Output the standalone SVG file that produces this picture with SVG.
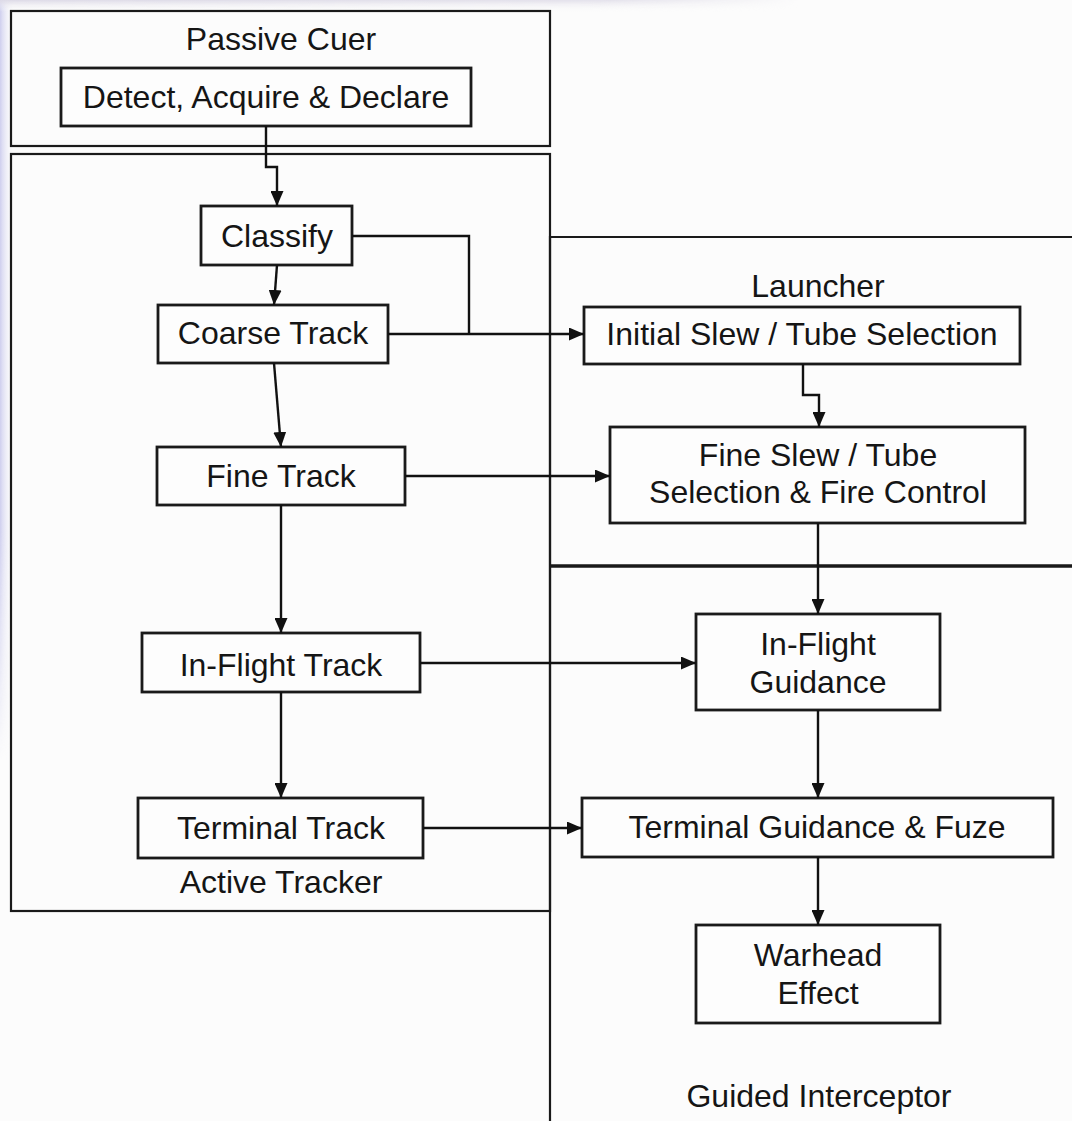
<svg xmlns="http://www.w3.org/2000/svg" width="1072" height="1121" viewBox="0 0 1072 1121">
<defs>
<style>
.bg{fill:#fcfcfc}
.frame{fill:none;stroke:#1a1a1a;stroke-width:2.2}
.box{fill:#fdfdfd;stroke:#1a1a1a;stroke-width:2.8}
.lbl{font-family:"Liberation Sans",Arial,sans-serif;font-size:32px;fill:#151515;text-anchor:middle}
.conn{fill:none;stroke:#111;stroke-width:2.4}
</style>
<linearGradient id="leftfade" x1="0" y1="0" x2="1" y2="0">
<stop offset="0" stop-color="#cfcfee"/>
<stop offset="1" stop-color="#fcfcfc" stop-opacity="0"/>
</linearGradient>
<linearGradient id="leftfadeV" x1="0" y1="0" x2="0" y2="1">
<stop offset="0" stop-color="#fff" stop-opacity="1"/>
<stop offset="0.7" stop-color="#fff" stop-opacity="1"/>
<stop offset="1" stop-color="#fff" stop-opacity="0"/>
</linearGradient>
<mask id="lm"><rect x="0" y="0" width="20" height="760" fill="url(#leftfadeV)"/></mask>
<linearGradient id="topfade" x1="0" y1="0" x2="0" y2="1">
<stop offset="0" stop-color="#dcd9e6"/>
<stop offset="1" stop-color="#fcfcfc" stop-opacity="0"/>
</linearGradient>
<linearGradient id="topfadeH" x1="0" y1="0" x2="1" y2="0">
<stop offset="0" stop-color="#fff" stop-opacity="1"/>
<stop offset="0.75" stop-color="#fff" stop-opacity="0.8"/>
<stop offset="1" stop-color="#fff" stop-opacity="0"/>
</linearGradient>
<mask id="tm"><rect x="0" y="0" width="800" height="14" fill="url(#topfadeH)"/></mask>
<marker id="ah" markerWidth="15" markerHeight="13" refX="15" refY="6.5" orient="auto" markerUnits="userSpaceOnUse">
<path d="M0,0 L15,6.5 L0,13 z" fill="#111"/>
</marker>
</defs>
<rect class="bg" x="0" y="0" width="1072" height="1121"/>
<rect x="0" y="0" width="14" height="760" fill="url(#leftfade)" mask="url(#lm)"/>
<rect x="0" y="0" width="800" height="12" fill="url(#topfade)" mask="url(#tm)"/>

<g id="passive-cuer">
<rect class="frame" x="11" y="11" width="539" height="135" fill="#fdfdfd"/>
<text class="lbl" x="281" y="50">Passive Cuer</text>
</g>
<g id="active-tracker">
<rect class="frame" x="11" y="154" width="539" height="757" fill="#fdfdfd"/>
<text class="lbl" x="281" y="893">Active Tracker</text>
</g>
<g id="launcher">
<path class="frame" d="M1072,237 H550 V566"/>
<text class="lbl" x="818" y="297">Launcher</text>
</g>
<g id="guided-interceptor">
<path class="frame" d="M550,566 V1121"/>
<path class="frame" d="M550,566 H1072" style="stroke-width:3.5"/>
<text class="lbl" x="819" y="1107">Guided Interceptor</text>
</g>

<g id="detect">
<rect class="box" x="61" y="68" width="410" height="58"/>
<text class="lbl" x="266" y="108">Detect, Acquire &amp; Declare</text>
</g>
<g id="classify">
<rect class="box" x="201" y="206" width="151" height="59"/>
<text class="lbl" x="277" y="247">Classify</text>
</g>
<g id="coarse-track">
<rect class="box" x="158" y="305" width="230" height="58"/>
<text class="lbl" x="273" y="344">Coarse Track</text>
</g>
<g id="fine-track">
<rect class="box" x="157" y="447" width="248" height="58"/>
<text class="lbl" x="281" y="487">Fine Track</text>
</g>
<g id="inflight-track">
<rect class="box" x="142" y="633" width="278" height="59"/>
<text class="lbl" x="281" y="676">In-Flight Track</text>
</g>
<g id="terminal-track">
<rect class="box" x="138" y="798" width="285" height="60"/>
<text class="lbl" x="281" y="839">Terminal Track</text>
</g>
<g id="initial-slew">
<rect class="box" x="584" y="307" width="436" height="57"/>
<text class="lbl" x="802" y="345">Initial Slew / Tube Selection</text>
</g>
<g id="fine-slew">
<rect class="box" x="610" y="427" width="415" height="96"/>
<text class="lbl" x="818" y="466">Fine Slew / Tube</text>
<text class="lbl" x="818" y="503">Selection &amp; Fire Control</text>
</g>
<g id="inflight-guidance">
<rect class="box" x="696" y="614" width="244" height="96"/>
<text class="lbl" x="818" y="655">In-Flight</text>
<text class="lbl" x="818" y="693">Guidance</text>
</g>
<g id="terminal-guidance">
<rect class="box" x="582" y="798" width="471" height="59"/>
<text class="lbl" x="817" y="838">Terminal Guidance &amp; Fuze</text>
</g>
<g id="warhead">
<rect class="box" x="696" y="925" width="244" height="98"/>
<text class="lbl" x="818" y="966">Warhead</text>
<text class="lbl" x="818" y="1004">Effect</text>
</g>

<g id="connectors">
<path class="conn" d="M266,126 V167 H277 V206" marker-end="url(#ah)"/>
<path class="conn" d="M277,265 L274,305" marker-end="url(#ah)"/>
<path class="conn" d="M274,363 L281,447" marker-end="url(#ah)"/>
<path class="conn" d="M281,505 V633" marker-end="url(#ah)"/>
<path class="conn" d="M281,692 V798" marker-end="url(#ah)"/>
<path class="conn" d="M352,236 H469 V334"/>
<path class="conn" d="M388,334 H584" marker-end="url(#ah)"/>
<path class="conn" d="M803,364 V395 H819 V427" marker-end="url(#ah)"/>
<path class="conn" d="M405,476 H610" marker-end="url(#ah)"/>
<path class="conn" d="M818,523 V614" marker-end="url(#ah)"/>
<path class="conn" d="M420,663 H696" marker-end="url(#ah)"/>
<path class="conn" d="M423,828 H582" marker-end="url(#ah)"/>
<path class="conn" d="M818,710 V798" marker-end="url(#ah)"/>
<path class="conn" d="M818,857 V925" marker-end="url(#ah)"/>
</g>
</svg>
